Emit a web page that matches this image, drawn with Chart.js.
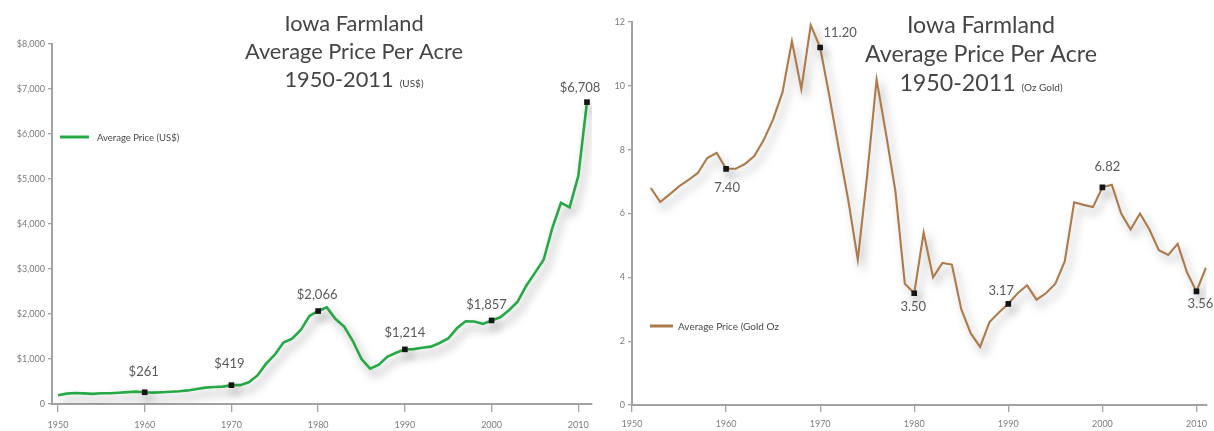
<!DOCTYPE html>
<html>
<head>
<meta charset="utf-8">
<script src="https://cdn.jsdelivr.net/npm/chart.js@4.4.1/dist/chart.umd.min.js"></script>
<style>
  html, body { margin: 0; padding: 0; background: #fff; }
  #wrap { position: relative; width: 1214px; height: 431px; overflow: hidden; }
  #usd { position: absolute; left: 0; top: 0; }
  #gold { position: absolute; left: 605px; top: 0; }
</style>
</head>
<body>
<div id="wrap">
  <canvas id="usd" width="605" height="431"></canvas>
  <canvas id="gold" width="609" height="431"></canvas>
</div>
<script>
// Iowa farmland, average price per acre in US dollars
const usYears = [1950, 1951, 1952, 1953, 1954, 1955, 1956, 1957, 1958, 1959,
  1960, 1961, 1962, 1963, 1964, 1965, 1966, 1967, 1968, 1969,
  1970, 1971, 1972, 1973, 1974, 1975, 1976, 1977, 1978, 1979,
  1980, 1981, 1982, 1983, 1984, 1985, 1986, 1987, 1988, 1989,
  1990, 1991, 1992, 1993, 1994, 1995, 1996, 1997, 1998, 1999,
  2000, 2001, 2002, 2003, 2004, 2005, 2006, 2007, 2008, 2009,
  2010, 2011];
const usPrice = [196, 230, 245, 237, 226, 238, 240, 250, 263, 276,
  261, 253, 262, 273, 283, 302, 333, 363, 377, 386,
  419, 419, 482, 635, 897, 1095, 1368, 1450, 1646, 1958,
  2066, 2147, 1889, 1720, 1400, 1000, 787, 875, 1054, 1139,
  1214, 1219, 1249, 1275, 1356, 1455, 1682, 1837, 1833, 1781,
  1857, 1926, 2083, 2275, 2629, 2914, 3204, 3908, 4468, 4371,
  5064, 6708];
const usMarkedYears = [1960, 1970, 1980, 1990, 2000, 2011];

// Same land price expressed in ounces of gold per acre
const goldYears = [1952, 1953, 1954, 1955, 1956, 1957, 1958, 1959,
  1960, 1961, 1962, 1963, 1964, 1965, 1966, 1967, 1968, 1969,
  1970, 1971, 1972, 1973, 1974, 1975, 1976, 1977, 1978, 1979,
  1980, 1981, 1982, 1983, 1984, 1985, 1986, 1987, 1988, 1989,
  1990, 1991, 1992, 1993, 1994, 1995, 1996, 1997, 1998, 1999,
  2000, 2001, 2002, 2003, 2004, 2005, 2006, 2007, 2008, 2009,
  2010, 2011];
const goldOz = [6.80, 6.36, 6.60, 6.85, 7.05, 7.27, 7.74, 7.90,
  7.40, 7.40, 7.55, 7.80, 8.30, 8.95, 9.80, 11.40, 9.90, 11.90,
  11.20, 9.65, 8.00, 6.40, 4.55, 7.20, 10.20, 8.50, 6.70, 3.80,
  3.50, 5.40, 4.00, 4.45, 4.40, 3.00, 2.25, 1.82, 2.60, 2.90,
  3.17, 3.50, 3.75, 3.30, 3.50, 3.80, 4.50, 6.35, 6.27, 6.20,
  6.82, 6.90, 6.00, 5.50, 6.00, 5.50, 4.85, 4.70, 5.05, 4.15,
  3.56, 4.30];
const goldMarkedYears = [1960, 1970, 1980, 1990, 2000, 2010];

// Axis ticks
const decadeTicks = [1950, 1960, 1970, 1980, 1990, 2000, 2010];
const usValueTicks = [0, 1000, 2000, 3000, 4000, 5000, 6000, 7000, 8000];
const goldValueTicks = [0, 2, 4, 6, 8, 10, 12];

const FONT = 'Lato, "Open Sans", "DejaVu Sans", sans-serif';
const AXIS_GREY = '#a2a2a2';

// Soft drop shadow under the price lines
const lineShadow = {
  id: 'lineShadow',
  beforeDatasetsDraw(chart, args, o) {
    const c = chart.ctx;
    c.save();
    c.shadowColor = o.color;
    c.shadowBlur = o.blur;
    c.shadowOffsetX = o.dx;
    c.shadowOffsetY = o.dy;
  },
  afterDatasetsDraw(chart) {
    chart.ctx.restore();
  }
};

// Value captions next to the marked years
const valueLabels = {
  id: 'valueLabels',
  afterDatasetsDraw(chart, args, o) {
    const c = chart.ctx;
    const meta = chart.getDatasetMeta(0);
    const ds = chart.data.datasets[0];
    c.save();
    c.font = `${o.size}px ${FONT}`;
    c.fillStyle = o.color;
    c.textAlign = 'center';
    c.textBaseline = 'middle';
    o.years.forEach((yr, k) => {
      const i = ds.data.findIndex(d => d.x === yr);
      if (i < 0) return;
      const p = meta.data[i];
      c.fillText(o.format(ds.data[i].y), p.x + o.offsets[k][0], p.y + o.offsets[k][1]);
    });
    c.restore();
  }
};

// Chart heading and the inline legend
const decor = {
  id: 'decor',
  afterDraw(chart, args, o) {
    const c = chart.ctx;
    c.save();
    c.fillStyle = o.titleColor;
    c.textBaseline = 'alphabetic';
    // size the heading so its widest line spans the wanted width
    c.font = `20px ${FONT}`;
    const size = 20 * o.titleWidth / c.measureText(o.title[1]).width;
    const big = `${size.toFixed(2)}px ${FONT}`;
    const small = `${o.noteSize}px ${FONT}`;
    c.font = big;
    c.textAlign = 'center';
    c.fillText(o.title[0], o.cx, o.baselines[0]);
    c.fillText(o.title[1], o.cx, o.baselines[1]);
    const wb = c.measureText(o.title[2]).width;
    c.font = small;
    const ws = c.measureText(o.note).width;
    const gap = 6;
    const x0 = o.cx - (wb + gap + ws) / 2;
    c.textAlign = 'left';
    c.font = big;
    c.fillText(o.title[2], x0, o.baselines[2]);
    c.font = small;
    c.fillText(o.note, x0 + wb + gap, o.baselines[2]);

    const ds = chart.data.datasets[0];
    c.strokeStyle = ds.borderColor;
    c.lineWidth = 3;
    c.beginPath();
    c.moveTo(o.legend.x0, o.legend.y);
    c.lineTo(o.legend.x1, o.legend.y);
    c.stroke();
    c.fillStyle = o.legendColor;
    c.font = `${o.legend.size}px ${FONT}`;
    c.textBaseline = 'middle';
    c.fillText(ds.label, o.legend.tx, o.legend.y + 0.5);
    c.restore();
  }
};

function axisStyle(tickLen) {
  return {
    grid: { drawOnChartArea: false, drawTicks: true, tickLength: tickLen, color: AXIS_GREY, lineWidth: 1.3 },
    border: { display: true, color: AXIS_GREY, width: 2 }
  };
}

function tickFont() {
  return { family: FONT, size: 9 };
}

// ---- US$ chart ----
new Chart(document.getElementById('usd'), {
  type: 'line',
  data: {
    datasets: [{
      label: 'Average Price (US$)',
      data: usYears.map((yr, i) => ({ x: yr, y: usPrice[i] })),
      borderColor: '#27a846',
      borderWidth: 2.6,
      tension: 0,
      fill: false,
      pointStyle: 'rect',
      pointRadius: ctx => usMarkedYears.includes(usYears[ctx.dataIndex]) ? 4 : 0,
      pointBackgroundColor: '#151515',
      pointBorderWidth: 0
    }]
  },
  options: {
    responsive: false,
    animation: false,
    events: [],
    layout: { padding: { left: 0, top: 44, right: 13, bottom: 0 } },
    plugins: {
      legend: { display: false },
      tooltip: { enabled: false },
      lineShadow: { color: 'rgba(0,0,0,0.40)', blur: 10, dx: 4, dy: 6 },
      valueLabels: {
        years: usMarkedYears,
        format: v => '$' + v.toLocaleString('en-US'),
        offsets: [[-1, -20], [-2, -21], [-1, -16], [0, -17], [-5, -16], [-7, -14]],
        size: 13,
        color: '#595959'
      },
      decor: {
        title: ['Iowa Farmland', 'Average Price Per Acre', '1950-2011'],
        note: '(US$)',
        noteSize: 10,
        titleWidth: 218,
        cx: 354,
        baselines: [31, 59, 87],
        titleColor: '#454545',
        legendColor: '#4a4a4a',
        legend: { x0: 60, x1: 89, y: 137, tx: 97, size: 9.5 }
      }
    },
    scales: {
      x: Object.assign({
        type: 'linear',
        min: 1949.31,
        max: 2011.58,
        afterBuildTicks: s => { s.ticks = decadeTicks.map(v => ({ value: v })); },
        afterFit: s => { s.height = 27; },
        ticks: { font: tickFont(), color: '#7c7c7c', padding: 8, maxRotation: 0, autoSkip: false, callback: v => String(v) }
      }, axisStyle(8)),
      y: Object.assign({
        min: 0,
        max: 8000,
        afterBuildTicks: s => { s.ticks = usValueTicks.map(v => ({ value: v })); },
        afterFit: s => { s.width = 52; },
        ticks: { font: tickFont(), color: '#7c7c7c', padding: 3, callback: v => v === 0 ? '0' : '$' + v.toLocaleString('en-US') }
      }, axisStyle(4))
    }
  },
  plugins: [lineShadow, valueLabels, decor]
});

// ---- gold ounce chart ----
new Chart(document.getElementById('gold'), {
  type: 'line',
  data: {
    datasets: [{
      label: 'Average Price (Gold Oz',
      data: goldYears.map((yr, i) => ({ x: yr, y: goldOz[i] })),
      borderColor: '#ad7a4b',
      borderWidth: 2.1,
      tension: 0,
      fill: false,
      pointStyle: 'rect',
      pointRadius: ctx => goldMarkedYears.includes(goldYears[ctx.dataIndex]) ? 4 : 0,
      pointBackgroundColor: '#151515',
      pointBorderWidth: 0
    }]
  },
  options: {
    responsive: false,
    animation: false,
    events: [],
    layout: { padding: { left: 0, top: 22, right: 6, bottom: 0 } },
    plugins: {
      legend: { display: false },
      tooltip: { enabled: false },
      lineShadow: { color: 'rgba(0,0,0,0.35)', blur: 10, dx: 4, dy: 6 },
      valueLabels: {
        years: goldMarkedYears,
        format: v => v.toFixed(2),
        offsets: [[1, 19], [20, -15], [-1, 14], [-7, -13], [5, -21], [4, 12]],
        size: 13,
        color: '#595959'
      },
      decor: {
        title: ['Iowa Farmland', 'Average Price Per Acre', '1950-2011'],
        note: '(Oz Gold)',
        noteSize: 10,
        titleWidth: 232,
        cx: 376,
        baselines: [33, 62, 91],
        titleColor: '#454545',
        legendColor: '#4a4a4a',
        legend: { x0: 45, x1: 68, y: 326, tx: 73, size: 10 }
      }
    },
    scales: {
      x: Object.assign({
        type: 'linear',
        min: 1950,
        max: 2011.1,
        afterBuildTicks: s => { s.ticks = decadeTicks.map(v => ({ value: v })); },
        afterFit: s => { s.height = 26; },
        ticks: { font: tickFont(), color: '#7c7c7c', padding: 7, maxRotation: 0, autoSkip: false, callback: v => String(v) }
      }, axisStyle(7)),
      y: Object.assign({
        min: 0,
        max: 12,
        afterBuildTicks: s => { s.ticks = goldValueTicks.map(v => ({ value: v })); },
        afterFit: s => { s.width = 27; },
        ticks: { font: tickFont(), color: '#7c7c7c', padding: 3, callback: v => String(v) }
      }, axisStyle(4))
    }
  },
  plugins: [lineShadow, valueLabels, decor]
});
</script>
</body>
</html>
